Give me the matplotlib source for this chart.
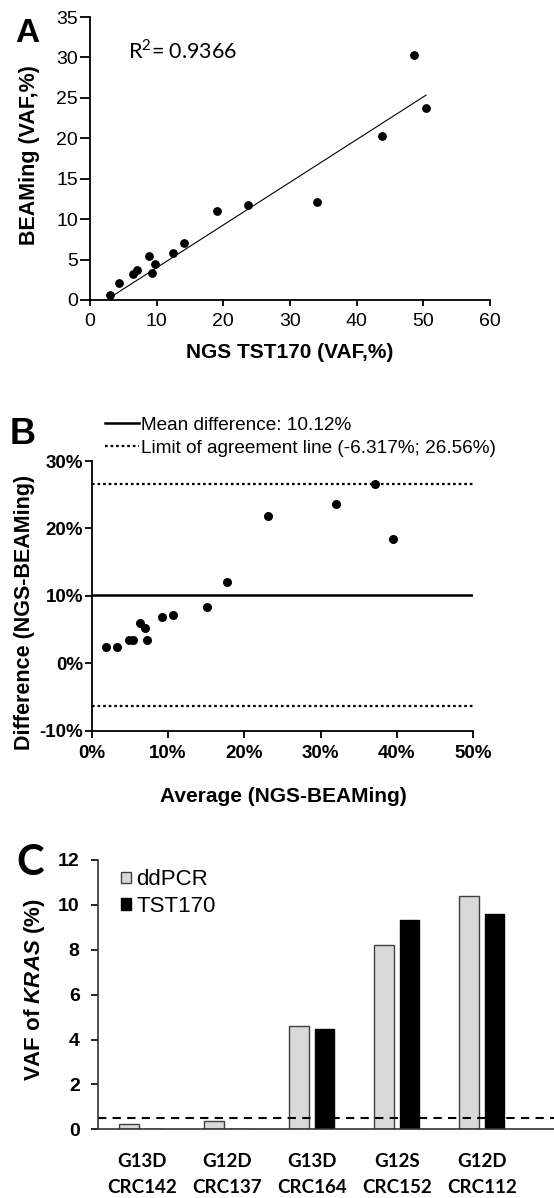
import numpy as np
import matplotlib
matplotlib.use("Agg")
import matplotlib.pyplot as plt
from matplotlib.lines import Line2D

plt.rcParams['font.family'] = ['Liberation Sans', 'DejaVu Sans']
plt.rcParams['mathtext.fontset'] = 'custom'
plt.rcParams['mathtext.rm'] = 'Lato'
plt.rcParams['mathtext.it'] = 'Liberation Sans:italic:bold'

# Panel A: NGS TST170 vs BEAMing (VAF, %)
ngs_vaf = [3.0, 4.4, 6.4, 7.0, 8.85, 9.25, 9.7, 12.45, 14.15, 19.1, 23.65, 34.0, 43.8, 48.6, 50.4]
beaming_vaf = [0.6, 2.1, 3.2, 3.7, 5.4, 3.4, 4.5, 5.8, 7.0, 10.95, 11.8, 12.15, 20.3, 30.25, 23.7]
fit_slope = 0.528
fit_intercept = -1.28
r2_text = "R$^{2}$= 0.9366"

# Panel B: Bland-Altman
ba_average = [1.87, 3.27, 4.93, 5.37, 6.33, 7.03, 7.2, 9.17, 10.6, 15.07, 17.77, 23.1, 32.06, 37.17, 39.45]
ba_difference = [2.44, 2.44, 3.4, 3.4, 5.98, 5.17, 3.49, 6.84, 7.22, 8.28, 12.0, 21.9, 23.57, 26.6, 18.4]
mean_diff = 10.12
loa_low = -6.317
loa_high = 26.56

# Panel C: KRAS VAF
samples = ["G13D\nCRC142", "G12D\nCRC137", "G13D\nCRC164", "G12S\nCRC152", "G12D\nCRC112"]
ddpcr = [0.22, 0.37, 4.6, 8.21, 10.41]
tst170 = [0, 0, 4.47, 9.33, 9.6]
cutoff = 0.5

W, H = 554, 1198
fig = plt.figure(figsize=(W / 100, H / 100), dpi=100)


def box(left, top, right, bottom):
    return [left / W, 1 - bottom / H, (right - left) / W, (bottom - top) / H]


def style_spines(ax, color='black', lw=1.3):
    for s in ['top', 'right']:
        ax.spines[s].set_visible(False)
    for s in ['left', 'bottom']:
        ax.spines[s].set_color(color)
        ax.spines[s].set_linewidth(lw)


# ---------- A ----------
axA = fig.add_axes(box(90, 17, 490, 300))
style_spines(axA)
axA.scatter(ngs_vaf, beaming_vaf, s=28, color='black', zorder=3)
xs = np.array([min(ngs_vaf), max(ngs_vaf)])
axA.plot(xs, fit_slope * xs + fit_intercept, color='black', lw=0.8)
axA.set_xlim(0, 60)
axA.set_ylim(0, 35)
axA.set_xticks(range(0, 61, 10))
axA.set_yticks(range(0, 36, 5))
axA.tick_params(axis='y', length=7, width=1.3, pad=1.5, labelsize=14)
axA.tick_params(axis='x', length=4, width=1.3, pad=5, labelsize=14)
axA.text(5.7, 29.9, r2_text, fontsize=15.5, family=['Lato', 'DejaVu Sans'],
         va='baseline', ha='left')
axA.set_xlabel('NGS TST170 (VAF,%)', fontsize=15, fontweight='bold')
axA.set_ylabel('BEAMing (VAF,%)', fontsize=15.5, fontweight='bold')
axA.xaxis.set_label_coords(0.5, -0.152)
axA.yaxis.set_label_coords(-0.125, 0.512)
fig.text(27 / W, 1 - 34 / H, 'A', fontsize=24, fontweight='bold', ha='center', va='center')

# ---------- B ----------
axB = fig.add_axes(box(91.7, 461, 473.3, 730.7))
style_spines(axB)
axB.scatter(ba_average, ba_difference, s=30, color='black', zorder=3)
axB.axhline(mean_diff, color='black', lw=1.8)
dot = (0, (1.2, 1.3))
axB.axhline(loa_low, color='black', lw=1.6, linestyle=dot)
axB.axhline(loa_high, color='black', lw=1.6, linestyle=dot)
axB.set_xlim(0, 50)
axB.set_ylim(-10, 30)
axB.set_xticks(range(0, 51, 10))
axB.set_yticks(range(-10, 31, 10))
axB.set_xticklabels([f'{v}%' for v in range(0, 51, 10)])
axB.set_yticklabels([f'{v}%' for v in range(-10, 31, 10)])
axB.tick_params(axis='both', length=5, width=1.3, labelsize=13.5)
axB.tick_params(axis='y', pad=1)
axB.tick_params(axis='x', pad=5)
for lbl in axB.get_xticklabels() + axB.get_yticklabels():
    lbl.set_fontweight('bold')
axB.set_xlabel('Average (NGS-BEAMing)', fontsize=15, fontweight='bold')
axB.set_ylabel('Difference (NGS-BEAMing)', fontsize=15.5, fontweight='bold')
axB.xaxis.set_label_coords(0.501, -0.209)
axB.yaxis.set_label_coords(-0.149, 0.44)
handles = [Line2D([], [], color='black', lw=1.8),
           Line2D([], [], color='black', lw=1.6, linestyle=dot)]
labels = [f'Mean difference: {mean_diff:.2f}%',
          f'Limit of agreement line ({loa_low:.3f}%; {loa_high:.2f}%)']
axB.legend(handles, labels, loc='upper left', bbox_to_anchor=(0.035, 1.165),
           frameon=False, fontsize=13.7, handlelength=1.8, handletextpad=0.1,
           borderpad=0, borderaxespad=0, labelspacing=0.3)
fig.text(23 / W, 1 - 435 / H, 'B', fontsize=26, fontweight='bold', ha='center', va='center')

# ---------- C ----------
axC = fig.add_axes(box(97.7, 860, 554, 1129.3))
style_spines(axC, color='#333333', lw=1.2)
x = np.arange(len(samples))
bw = 0.235
axC.bar(x - 0.15, ddpcr, bw, color='#d9d9d9', edgecolor='#404040', lw=1.0, label='ddPCR')
axC.bar(x + 0.15, tst170, bw, color='black', edgecolor='black', lw=1.0, label='TST170')
axC.axhline(cutoff, color='black', lw=1.5, linestyle=(0, (4, 3)))
axC.set_xlim(-0.518, 4.85)
axC.set_ylim(0, 12)
axC.set_yticks(range(0, 13, 2))
axC.set_xticks(x)
axC.set_xticklabels(samples, family=['Lato', 'DejaVu Sans'], fontweight='bold',
                    fontsize=13.5, linespacing=1.65)
axC.tick_params(axis='x', length=0, pad=17)
axC.tick_params(axis='y', length=5, width=1.2, pad=8, labelsize=14)
for lbl in axC.get_yticklabels():
    lbl.set_fontweight('bold')
axC.set_ylabel('VAF of $\\mathit{KRAS}$ (%)', fontsize=16, fontweight='bold')
axC.yaxis.set_label_coords(-0.111, 0.517)
axC.legend(loc='upper left', bbox_to_anchor=(0.05, 0.965), frameon=False, fontsize=16,
           handlelength=0.45, handleheight=0.45, handletextpad=0.25,
           borderpad=0, borderaxespad=0, labelspacing=0.25)
fig.text(30 / W, 1 - 863 / H, 'C', fontsize=30, fontweight='bold', ha='center', va='center',
         family=['Lato', 'DejaVu Sans'])

fig.savefig('out.png', dpi=100, facecolor='white')
